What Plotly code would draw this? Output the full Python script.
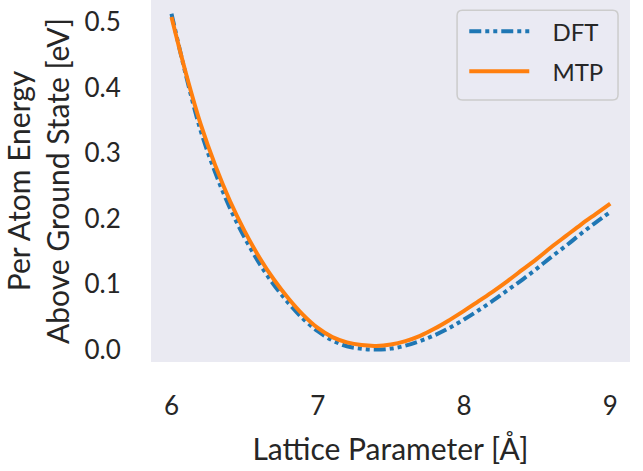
import plotly.graph_objects as go

lattice = [6.0, 6.1, 6.2, 6.3, 6.4, 6.5, 6.6, 6.7, 6.8, 6.9, 7.0, 7.1, 7.2, 7.3, 7.4, 7.5,
           7.6, 7.7, 7.8, 7.9, 8.0, 8.1, 8.2, 8.3, 8.4, 8.5, 8.6, 8.7, 8.8, 8.9, 9.0]
dft = [0.513, 0.418, 0.334, 0.270, 0.216, 0.171, 0.132, 0.099, 0.071, 0.047, 0.028, 0.014,
       0.005, 0.0012, 0.000, 0.0015, 0.006, 0.013, 0.022, 0.033, 0.046, 0.060, 0.075, 0.091,
       0.107, 0.124, 0.142, 0.159, 0.177, 0.194, 0.210]
mtp = [0.508, 0.421, 0.344, 0.281, 0.227, 0.181, 0.141, 0.107, 0.078, 0.053, 0.033, 0.019,
       0.011, 0.0068, 0.0056, 0.0078, 0.013, 0.021, 0.032, 0.045, 0.059, 0.074, 0.089, 0.105,
       0.122, 0.139, 0.157, 0.174, 0.191, 0.207, 0.223]
x_ticks = [6, 7, 8, 9]
y_ticks = [0.0, 0.1, 0.2, 0.3, 0.4, 0.5]

TEXT = "#262626"
BG = "#EAEAF2"

fig = go.Figure()
fig.add_trace(go.Scatter(x=lattice, y=dft, mode="lines", name="\u2002\u00a0DFT",
                         legendgroup="dft",
                         line=dict(color="#1f77b4", width=4,
                                   dash="12px,4px,4px,4px,4px,4px"),
                         line_shape="spline"))
fig.add_trace(go.Scatter(x=lattice, y=mtp, mode="lines", name="\u2002\u00a0MTP",
                         legendgroup="mtp",
                         line=dict(color="#ff7f0e", width=4), line_shape="spline"))

# rounded legend frame (paper coords of plot area)
x0, x1, y0, y1 = 0.639, 0.975, 0.724, 0.972
rx, ry = 0.011, 0.015
frame = (f"M {x0+rx} {y1} L {x1-rx} {y1} Q {x1} {y1} {x1} {y1-ry} L {x1} {y0+ry} "
         f"Q {x1} {y0} {x1-rx} {y0} L {x0+rx} {y0} Q {x0} {y0} {x0} {y0+ry} "
         f"L {x0} {y1-ry} Q {x0} {y1} {x0+rx} {y1} Z")

fig.update_layout(
    width=643, height=471,
    margin=dict(l=151, r=13, t=0, b=109, autoexpand=False),
    paper_bgcolor="white", plot_bgcolor=BG,
    font=dict(family="Lato", size=26, color=TEXT),
    showlegend=True,
    legend=dict(x=0.654, y=0.975, xanchor="left", yanchor="top",
                bgcolor="rgba(0,0,0,0)", borderwidth=0,
                font=dict(size=24, color=TEXT), itemwidth=60,
                tracegroupgap=6),
    shapes=[dict(type="path", xref="paper", yref="paper", path=frame,
                 line=dict(color="#CCCCCC", width=1.5), fillcolor="rgba(234,234,242,0.8)",
                 layer="below")],
)
fig.update_xaxes(range=[5.86, 9.135], tickvals=x_ticks, ticktext=[str(v) for v in x_ticks],
                 showgrid=False, zeroline=False, showline=False, automargin=False,
                 ticks="outside", ticklen=21, tickcolor="rgba(0,0,0,0)",
                 tickfont=dict(size=26),
                 title=dict(text="Lattice Parameter [Å]", font=dict(size=30, color=TEXT),
                            standoff=18))
fig.update_yaxes(range=[-0.019, 0.534], tickvals=y_ticks,
                 ticktext=[f"{v:.1f}" for v in y_ticks],
                 showgrid=False, zeroline=False, showline=False, automargin=False,
                 ticks="outside", ticklen=24, tickcolor="rgba(0,0,0,0)",
                 tickfont=dict(size=26),
                 title=dict(text="Per Atom Energy<br>Above Ground State [eV]",
                            font=dict(size=30, color=TEXT), standoff=13))

fig.write_html("out.html", config={"displayModeBar": False},
               post_script="document.body.style.margin='0';")
